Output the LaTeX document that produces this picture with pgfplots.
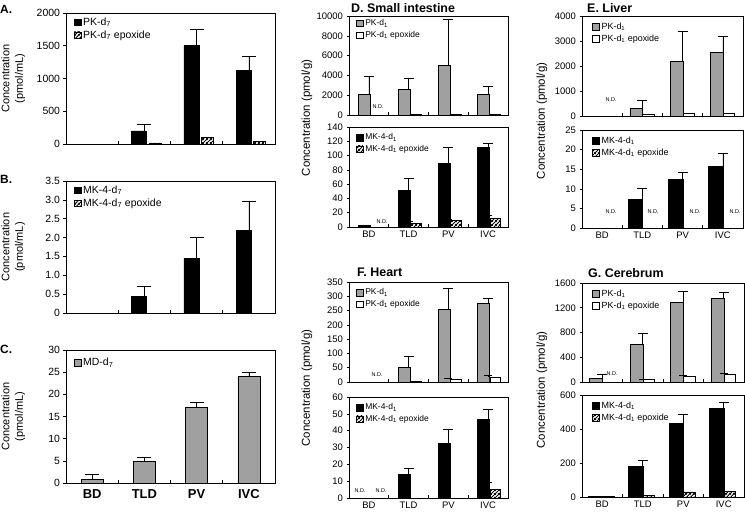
\documentclass[border=0pt]{standalone}
\usepackage{pgfplots}
\pgfplotsset{compat=1.18}
\usepackage{fontspec}
\setmainfont{Liberation Sans}
\usetikzlibrary{patterns.meta}
\tikzdeclarepattern{
  name=hatch,
  type=uncolored,
  bottom left={(0pt,0pt)},
  top right={(3.6pt,3.6pt)},
  tile size={(3.6pt,3.6pt)},
  code={
    \tikzset{line width=1.1pt}
    \draw (-1pt,-1pt) -- (4.6pt,4.6pt);
    \draw (-1pt,2.6pt) -- (1pt,4.6pt);
    \draw (2.6pt,-1pt) -- (4.6pt,1pt);
  }
}
\definecolor{bargray}{RGB}{160,160,160}
\pgfplotsset{
  panel/.style={
    scale only axis,
    anchor=south west,
    axis line style={line width=0.7bp},
    xmin=-0.5, xmax=3.5, ymin=0,
    xtick={0,1,2,3},
    minor xtick={0.5,1.5,2.5},
    major x tick style={draw=none},
    minor tick length=3bp,
    xtick align=inside,
    ytick align=outside,
    major tick length=2.5bp,
    tickpos=left,
    tick style={line width=0.6bp, black},
    scaled y ticks=false,
    /pgf/number format/1000 sep={},
    /pgf/number format/assume math mode=true,
    xticklabels={},
    legend style={draw=none, fill=none, inner sep=0.5bp, anchor=north west, cells={anchor=west}},
    legend image code/.code={\draw[#1,draw=black,line width=0.6bp] (0bp,-3.3bp) rectangle (6.6bp,3.3bp);},
  },
  abc/.style={
    ticklabel style={font=\fontsize{10.5}{12}\selectfont},
    ylabel={Concentration\\(pmol/mL)},
    ylabel style={align=center, inner sep=0pt, at={(axis description cs:-0.252,0.5)}, anchor=center, font=\fontsize{11}{13.5}\selectfont},
    legend style={font=\fontsize{10.5}{12}\selectfont},
  },
  small/.style={
    ticklabel style={font=\fontsize{9.5}{10.5}\selectfont},
    xticklabel style={font=\fontsize{9.5}{11}\selectfont},
    legend style={font=\fontsize{8.5}{10.5}\selectfont},
  },
  blk/.style={ybar, fill=black, draw=black, line width=0.6bp},
  gry/.style={ybar, fill=bargray, draw=black, line width=0.6bp},
  wht/.style={ybar, fill=white, draw=black, line width=0.6bp},
  hat/.style={ybar, pattern=hatch, pattern color=black, draw=black, line width=0.6bp},
  eb/.style={
    /pgfplots/error bars/y dir=plus,
    /pgfplots/error bars/y explicit,
    /pgfplots/error bars/error bar style={line width=0.6bp, black},
    /pgfplots/error bars/error mark options={rotate=90, mark size=#1, line width=0.6bp, black},
  },
  eb/.default=5bp,
}
\begin{document}
\begin{tikzpicture}
\path[use as bounding box] (0,0) rectangle (745bp,-512bp);

% ---------- A ----------
\begin{axis}[panel, abc, at={(66bp,-144bp)}, width=209bp, height=131bp,
  ymax=2000, ytick={0,500,...,2000},
  legend style={at={(0.035,0.985)}}]
\addplot[blk, bar width=0.29, bar shift=-0.1, eb=7bp] coordinates {(1,200) +- (0,105) (2,1500) +- (0,255) (3,1120) +- (0,220)};
\addlegendentry{PK-d\textsubscript{7}}
\addplot[hat, bar width=0.23, bar shift=0.2] coordinates {(1,18) (2,95) (3,45)};
\addlegendentry{PK-d\textsubscript{7} epoxide}
\end{axis}

% ---------- B ----------
\begin{axis}[panel, abc, at={(66bp,-313bp)}, width=209bp, height=132bp,
  ymax=3.5, ytick={0,0.5,...,3.5}, yticklabels={0,0.5,1.0,1.5,2.0,2.5,3.0,3.5},
  legend style={at={(0.035,0.985)}}]
\addplot[blk, bar width=0.29, bar shift=-0.1, eb=7bp] coordinates {(1,0.44) +- (0,0.26) (2,1.45) +- (0,0.55) (3,2.2) +- (0,0.77)};
\addlegendentry{MK-4-d\textsubscript{7}}
\addlegendimage{hat}
\addlegendentry{MK-4-d\textsubscript{7} epoxide}
\end{axis}

% ---------- C ----------
\begin{axis}[panel, abc, at={(66bp,-483bp)}, width=209bp, height=133bp,
  ymax=30, ytick={0,5,...,30},
  xticklabels={BD,TLD,PV,IVC},
  xticklabel style={font=\fontsize{13}{14}\selectfont\bfseries, yshift=-3bp},
  legend style={at={(0.035,0.96)}}]
\addplot[gry, bar width=0.42, bar shift=0, eb=7bp] coordinates {(0,0.9) +- (0,1.1) (1,4.9) +- (0,1.0) (2,17) +- (0,1.2) (3,24) +- (0,1.0)};
\addlegendentry{MD-d\textsubscript{7}}
\end{axis}

% ---------- D top ----------
\begin{axis}[panel, small, at={(349bp,-115bp)}, width=159bp, height=99bp,
  ymax=10000, ytick={0,2000,...,10000},
  legend style={at={(0.04,0.99)}}]
\addplot[gry, bar width=0.3, bar shift=-0.11, eb] coordinates {(0,2090) +- (0,1780) (1,2600) +- (0,1100) (2,5050) +- (0,4610) (3,2090) +- (0,770)};
\addlegendentry{PK-d\textsubscript{1}}
\addplot[wht, bar width=0.27, bar shift=0.18] coordinates {(1,60) (2,60) (3,60)};
\addlegendentry{PK-d\textsubscript{1} epoxide}
\end{axis}

% ---------- D bottom ----------
\begin{axis}[panel, small, at={(349bp,-227bp)}, width=159bp, height=100bp,
  ymax=140, ytick={0,20,...,140},
  xticklabels={BD,TLD,PV,IVC},
  legend style={at={(0.04,0.96)}}]
\addplot[blk, bar width=0.3, bar shift=-0.11, eb] coordinates {(1,51) +- (0,17) (2,89) +- (0,22) (3,111) +- (0,6)};
\addlegendentry{MK-4-d\textsubscript{1}}
\addplot[hat, bar width=0.27, bar shift=0.18, eb=4bp] coordinates {(1,5.6) +- (0,2.2) (2,9.2) +- (0,1.2) (3,11.6) +- (0,4.1)};
\addlegendentry{MK-4-d\textsubscript{1} epoxide}
\addplot[blk, bar width=0.3, bar shift=-0.11, forget plot] coordinates {(0,3)};
\end{axis}

% ---------- E top ----------
\begin{axis}[panel, small, at={(582bp,-116bp)}, width=161bp, height=100bp,
  ymax=4000, ytick={0,1000,...,4000},
  legend style={at={(0.06,0.96)}, font=\fontsize{9}{11}\selectfont}]
\addplot[gry, bar width=0.32, bar shift=-0.15, eb] coordinates {(1,296) +- (0,332) (2,2190) +- (0,1200) (3,2540) +- (0,650)};
\addlegendentry{PK-d\textsubscript{1}}
\addplot[wht, bar width=0.28, bar shift=0.15] coordinates {(1,50) (2,90) (3,90)};
\addlegendentry{PK-d\textsubscript{1} epoxide}
\end{axis}

% ---------- E bottom ----------
\begin{axis}[panel, small, at={(582bp,-228bp)}, width=161bp, height=98bp,
  ymax=25, ytick={0,5,...,25},
  xticklabels={BD,TLD,PV,IVC},
  legend style={at={(0.06,0.96)}, font=\fontsize{9}{11}\selectfont}]
\addplot[blk, bar width=0.36, bar shift=-0.17, eb] coordinates {(1,7.3) +- (0,2.8) (2,12.5) +- (0,1.7) (3,15.8) +- (0,3.2)};
\addlegendentry{MK-4-d\textsubscript{1}}
\addlegendimage{hat}
\addlegendentry{MK-4-d\textsubscript{1} epoxide}
\end{axis}

% ---------- F top ----------
\begin{axis}[panel, small, at={(349bp,-382bp)}, width=159bp, height=100bp,
  ymax=350, ytick={0,50,...,350},
  legend style={at={(0.04,0.96)}}]
\addplot[gry, bar width=0.3, bar shift=-0.11, eb] coordinates {(1,51.5) +- (0,39.5) (2,255) +- (0,74) (3,276) +- (0,18)};
\addlegendentry{PK-d\textsubscript{1}}
\addplot[wht, bar width=0.27, bar shift=0.18, eb=4bp] coordinates {(2,10) +- (0,3) (3,17) +- (0,7)};
\addlegendentry{PK-d\textsubscript{1} epoxide}
\addplot[wht, bar width=0.27, bar shift=0.18, forget plot] coordinates {(1,4)};
\end{axis}

% ---------- F bottom ----------
\begin{axis}[panel, small, at={(349bp,-498bp)}, width=159bp, height=101bp,
  ymax=60, ytick={0,10,...,60},
  xticklabels={BD,TLD,PV,IVC},
  legend style={at={(0.04,0.96)}}]
\addplot[blk, bar width=0.3, bar shift=-0.11, eb] coordinates {(1,14.1) +- (0,3.3) (2,32.3) +- (0,8.3) (3,46.5) +- (0,6)};
\addlegendentry{MK-4-d\textsubscript{1}}
\addplot[hat, bar width=0.27, bar shift=0.18, eb=4bp] coordinates {(3,5.1) +- (0,4.4)};
\addlegendentry{MK-4-d\textsubscript{1} epoxide}
\end{axis}

% ---------- G top ----------
\begin{axis}[panel, small, at={(582bp,-382bp)}, width=162bp, height=99bp,
  ymax=1600, ytick={0,400,...,1600},
  legend style={at={(0.06,0.96)}, font=\fontsize{9}{11}\selectfont}]
\addplot[gry, bar width=0.32, bar shift=-0.15, eb] coordinates {(0,60) +- (0,60) (1,610) +- (0,178) (2,1285) +- (0,178) (3,1345) +- (0,108)};
\addlegendentry{PK-d\textsubscript{1}}
\addplot[wht, bar width=0.28, bar shift=0.15, eb=4bp] coordinates {(1,40) +- (0,10) (2,100) +- (0,10) (3,125) +- (0,15)};
\addlegendentry{PK-d\textsubscript{1} epoxide}
\end{axis}

% ---------- G bottom ----------
\begin{axis}[panel, small, at={(582bp,-497bp)}, width=162bp, height=102bp,
  ymax=600, ytick={0,200,400,600},
  xticklabels={BD,TLD,PV,IVC},
  legend style={at={(0.06,0.96)}, font=\fontsize{9}{11}\selectfont}]
\addplot[blk, bar width=0.36, bar shift=-0.17, eb] coordinates {(1,180) +- (0,34) (2,434) +- (0,52) (3,520) +- (0,40)};
\addlegendentry{MK-4-d\textsubscript{1}}
\addplot[hat, bar width=0.28, bar shift=0.15] coordinates {(0,5) (1,10) (2,30) (3,34)};
\addlegendentry{MK-4-d\textsubscript{1} epoxide}
\addplot[blk, bar width=0.36, bar shift=-0.17, forget plot] coordinates {(0,6)};
\end{axis}

% ---------- panel letters and titles ----------
\node[anchor=base west, font=\fontsize{12}{13}\selectfont\bfseries, inner sep=0] at (0bp,-13bp) {A.};
\node[anchor=base west, font=\fontsize{12}{13}\selectfont\bfseries, inner sep=0] at (0bp,-183bp) {B.};
\node[anchor=base west, font=\fontsize{12}{13}\selectfont\bfseries, inner sep=0] at (0bp,-353bp) {C.};
\node[anchor=base west, font=\fontsize{12.5}{14}\selectfont\bfseries, inner sep=0] at (351bp,-12bp) {D. Small intestine};
\node[anchor=base west, font=\fontsize{12.5}{14}\selectfont\bfseries, inner sep=0] at (587bp,-12bp) {E. Liver};
\node[anchor=base west, font=\fontsize{12.5}{14}\selectfont\bfseries, inner sep=0] at (357bp,-276bp) {F. Heart};
\node[anchor=base west, font=\fontsize{12.5}{14}\selectfont\bfseries, inner sep=0] at (588bp,-277bp) {G. Cerebrum};

% ---------- shared y labels ----------
\node[rotate=90, font=\fontsize{11.5}{13}\selectfont] at (307bp,-118bp) {Concentration (pmol/g)};
\node[rotate=90, font=\fontsize{11.5}{13}\selectfont] at (542bp,-121bp) {Concentration (pmol/g)};
\node[rotate=90, font=\fontsize{11.5}{13}\selectfont] at (307bp,-388bp) {Concentration (pmol/g)};
\node[rotate=90, font=\fontsize{11.5}{13}\selectfont] at (542bp,-390bp) {Concentration (pmol/g)};

% ---------- N.D. labels ----------
\begin{scope}[every node/.style={font=\fontsize{5.5}{6}\selectfont, inner sep=0}]
\node at (378bp,-107bp) {N.D.};
\node at (382bp,-222bp) {N.D.};
\node at (611bp,-100bp) {N.D.};
\node at (611bp,-212bp) {N.D.};
\node at (653bp,-212bp) {N.D.};
\node at (695bp,-212bp) {N.D.};
\node at (735bp,-212bp) {N.D.};
\node at (377bp,-375bp) {N.D.};
\node at (360bp,-491bp) {N.D.};
\node at (381bp,-491bp) {N.D.};
\node at (612bp,-374bp) {N.D.};
\end{scope}
\end{tikzpicture}
\end{document}
